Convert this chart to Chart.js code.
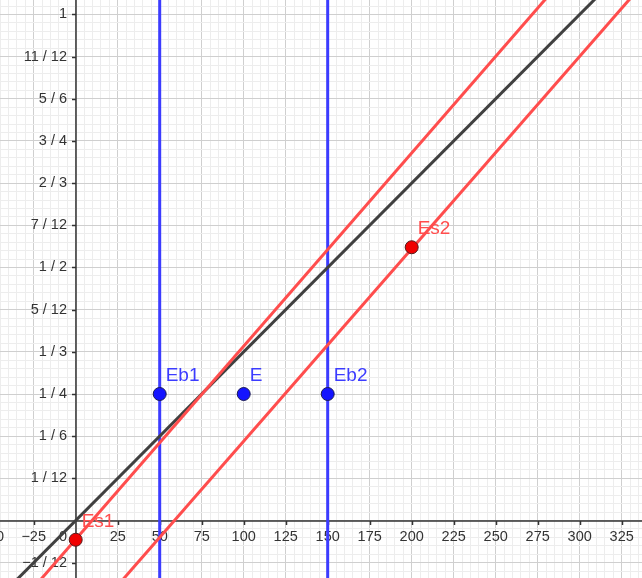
<!DOCTYPE html>
<html>
<head>
<meta charset="utf-8">
<script src="https://cdn.jsdelivr.net/npm/chart.js@4.4.1/dist/chart.umd.min.js"></script>
<style>
  html, body { margin: 0; padding: 0; background: #fff; }
  #wrap { width: 642px; height: 578px; }
</style>
</head>
<body>
<div id="wrap"><canvas id="graph"></canvas></div>
<script>
// visible window of the graph
const xRange = [-45.06, 337.1];
const yRange = [-0.1136, 1.0286];

// axis tick labels
const xTickValues = [-50, -25, 0, 25, 50, 75, 100, 125, 150, 175, 200, 225, 250, 275, 300, 325];
const xTickLabels = ['−50', '−25', '0', '25', '50', '75', '100', '125', '150', '175', '200', '225', '250', '275', '300', '325'];
const yTickValues = [-1/12, 1/12, 2/12, 3/12, 4/12, 5/12, 6/12, 7/12, 8/12, 9/12, 10/12, 11/12, 1];
const yTickLabels = ['−1 / 12', '1 / 12', '1 / 6', '1 / 4', '1 / 3', '5 / 12', '1 / 2', '7 / 12', '2 / 3', '3 / 4', '5 / 6', '11 / 12', '1'];

// vertical lines  x = 50, x = 150
const verticalLines = [50, 150];

// sloped lines, two end points each (outside the window)
const blackLine = [[-50, -1/6], [340, 17/15]];
const redLineLeft = [[-30, -0.1517], [285, 1.0507]];
const redLineRight = [[25, -0.1284], [335, 1.0502]];

// named points
const bluePointNames = ['Eb1', 'E', 'Eb2'];
const bluePointX = [50, 100, 150];
const bluePointY = [1/4, 1/4, 1/4];
const redPointNames = ['Es1', 'Es2'];
const redPointX = [0, 200];
const redPointY = [-0.038, 0.54];

const BLUE = 'rgb(60,60,255)';
const RED = 'rgb(255,77,77)';
const FONT = '"Liberation Sans", Arial, sans-serif';

function toXY(pts) { return pts.map(p => ({x: p[0], y: p[1]})); }

function lineSet(data, color) {
    return {
        data: data,
        showLine: true,
        borderColor: color,
        borderWidth: 3,
        pointRadius: 0,
        fill: false
    };
}

// grid positions: minor every 5 in x, every 1/60 in y
const gridX = [];
for (let k = -9; k <= 67; k++) gridX.push(k * 5);
const gridY = [];
for (let k = -6; k <= 61; k++) gridY.push(k / 60);

function isMajor(v, step) {
    const r = v / step;
    return Math.abs(r - Math.round(r)) < 1e-6;
}

// axes + tick labels drawn on the scales, below the data
const axesPlugin = {
    id: 'axesPlugin',
    beforeDatasetsDraw(chart) {
        const c = chart.ctx;
        const sx = chart.scales.x, sy = chart.scales.y;
        const x0 = Math.round(sx.getPixelForValue(0));
        const y0 = Math.round(sy.getPixelForValue(0));
        c.save();
        c.strokeStyle = '#333';
        c.lineWidth = 1.5;
        c.beginPath();
        c.moveTo(0, y0); c.lineTo(chart.width, y0);
        c.moveTo(x0, 0); c.lineTo(x0, chart.height);
        c.stroke();

        c.font = '14.5px ' + FONT;
        c.fillStyle = '#333';
        c.textBaseline = 'middle';
        xTickValues.forEach((v, i) => {
            const px = sx.getPixelForValue(v);
            if (v === 0) {
                c.textAlign = 'right';
                c.fillText(xTickLabels[i], x0 - 9, y0 + 16);
                return;
            }
            c.beginPath();
            c.moveTo(Math.round(px) + 0.5, y0); c.lineTo(Math.round(px) + 0.5, y0 + 4);
            c.stroke();
            c.textAlign = 'center';
            c.fillText(xTickLabels[i], px, y0 + 16);
        });
        yTickValues.forEach((v, i) => {
            const py = sy.getPixelForValue(v);
            c.beginPath();
            c.moveTo(x0 - 4, Math.round(py) + 0.5); c.lineTo(x0, Math.round(py) + 0.5);
            c.stroke();
            c.textAlign = 'right';
            c.fillText(yTickLabels[i], x0 - 9, py);
        });
        c.restore();
    },
    afterDatasetsDraw(chart) {
        const c = chart.ctx;
        c.save();
        c.font = '19px ' + FONT;
        c.textAlign = 'left';
        c.textBaseline = 'alphabetic';
        chart.data.datasets.forEach((ds, i) => {
            if (!ds.names) return;
            const meta = chart.getDatasetMeta(i);
            c.fillStyle = ds.labelColor;
            meta.data.forEach((el, j) => {
                c.fillText(ds.names[j], el.x + 6, el.y - 13);
            });
        });
        c.restore();
    }
};

const ctx = document.getElementById('graph').getContext('2d');
new Chart(ctx, {
    type: 'scatter',
    data: {
        datasets: [
            {
                data: bluePointX.map((x, i) => ({x: x, y: bluePointY[i]})),
                names: bluePointNames,
                labelColor: BLUE,
                pointRadius: 6.5,
                pointBackgroundColor: 'rgb(20,20,255)',
                pointBorderColor: '#1a1a55',
                pointBorderWidth: 1
            },
            {
                data: redPointX.map((x, i) => ({x: x, y: redPointY[i]})),
                names: redPointNames,
                labelColor: RED,
                pointRadius: 6.5,
                pointBackgroundColor: 'rgb(240,0,0)',
                pointBorderColor: '#551a1a',
                pointBorderWidth: 1
            },
            lineSet(toXY(redLineLeft), RED),
            lineSet(toXY(redLineRight), RED),
            lineSet(toXY(blackLine), 'rgb(64,64,64)'),
            ...verticalLines.map(v => lineSet([{x: v, y: yRange[0] - 1}, {x: v, y: yRange[1] + 1}], BLUE))
        ]
    },
    options: {
        responsive: true,
        maintainAspectRatio: false,
        animation: false,
        events: [],
        layout: { padding: 0, autoPadding: false },
        plugins: {
            legend: { display: false },
            tooltip: { enabled: false }
        },
        scales: {
            x: {
                type: 'linear',
                min: xRange[0],
                max: xRange[1],
                afterBuildTicks: s => { s.ticks = gridX.map(v => ({value: v})); },
                ticks: { display: false },
                border: { display: false },
                grid: {
                    drawTicks: false,
                    color: c => isMajor(c.tick.value, 25) ? '#cfcfcf' : '#ededed'
                }
            },
            y: {
                type: 'linear',
                min: yRange[0],
                max: yRange[1],
                afterBuildTicks: s => { s.ticks = gridY.map(v => ({value: v})); },
                ticks: { display: false },
                border: { display: false },
                grid: {
                    drawTicks: false,
                    color: c => isMajor(c.tick.value, 1/12) ? '#cfcfcf' : '#ededed'
                }
            }
        }
    },
    plugins: [axesPlugin]
});
</script>
</body>
</html>
